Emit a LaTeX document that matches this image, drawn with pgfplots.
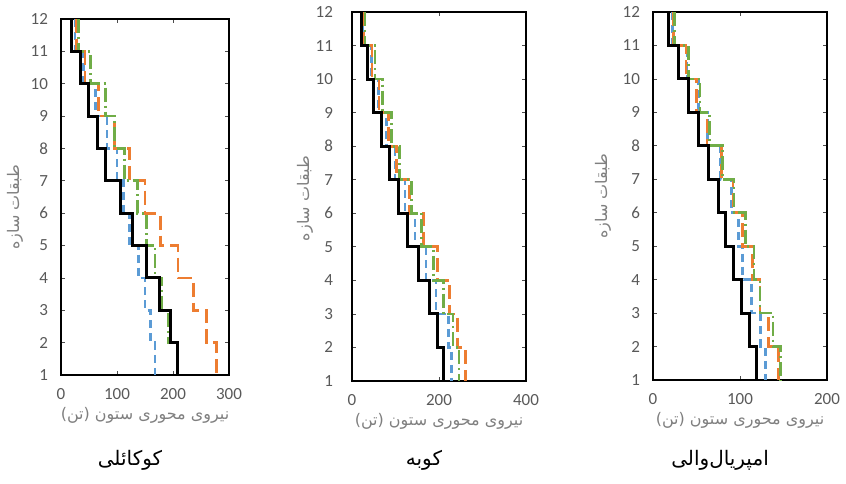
\documentclass[border=0pt]{standalone}
\usepackage{fontspec}
\setmainfont{Carlito}
\newfontfamily\fa[Script=Arabic]{DejaVu Sans}
\TeXXeTstate=1
\usepackage{pgfplots}
\usepackage{pgfplotstable}
\pgfplotsset{compat=1.18}

\definecolor{sblue}{HTML}{5B9BD5}
\definecolor{sorange}{HTML}{ED7D31}
\definecolor{sgreen}{HTML}{70AD47}
\definecolor{tickgray}{HTML}{595959}
\definecolor{labgray}{HTML}{7F7F7F}

% axial column force (ton) per storey; row k holds the value between floor k and k-1
\pgfplotstableread{
floor black blue orange green
12 19 25 28 31
11 34 40 43 52
10 49 62 67 80
9 65 82 96 95
8 80 100 122 114
7 106 111 150 136
6 128 123 177 152
5 152 138 209 168
4 176 150 236 180
3 195 160 260 192
2 208 168 278 209
1 208 168 278 209
}\kocaeli

\pgfplotstableread{
floor black blue orange green
12 21 24 26 30
11 35 44 46 53
10 49 60 62 70
9 67 80 84 91
8 86 99 102 110
7 108 122 133 137
6 127 145 164 160
5 153 170 196 187
4 178 193 225 210
3 197 222 243 232
2 211 229 260 246
1 211 229 260 246
}\kobe

\pgfplotstableread{
floor black blue orange green
12 18 22 24 25
11 29 39 38 41
10 41 52 50 54
9 52 63 62 65
8 64 78 79 80
7 75 90 92 93
6 83 98 103 106
5 92 103 114 116
4 102 113 123 123
3 111 124 133 138
2 119 129 144 147
1 119 129 144 147
}\imperial

\newcommand{\fatext}[1]{{\fa\beginR #1\endR}}

\pgfplotsset{
  floors/.style={
    scale only axis,
    anchor=south west,
    xmin=0, ymin=1, ymax=12, ytick={1,...,12},
    tick align=inside,
    major tick length=2pt,
    tick style={black!70, line width=0.4pt},
    axis line style={line width=0.6pt},
    ticklabel style={font=\fontsize{8.5}{9}\selectfont, text=tickgray},
    /pgf/number format/assume math mode=true,
    xticklabel shift=3pt,
    yticklabel shift=3pt,
    xlabel={\fatext{نیروی محوری ستون (تن)}},
    xlabel style={font=\fontsize{8}{9}\selectfont, text=labgray, yshift=3pt},
    ylabel={\fatext{طبقات سازه}},
  },
  ypos/.style 2 args={
    every axis y label/.style={
      at={([xshift=#1,yshift=#2]axis description cs:0,0.5)},
      rotate=90, anchor=center,
      font=\fontsize{8}{9}\selectfont, text=labgray},
  },
  stair/.style={const plot mark right, no marks, line width=1.4pt},
  sblk/.style={stair, black, line width=1.5pt},
  sblu/.style={stair, sblue, dash pattern=on 4pt off 2.5pt},
  sorg/.style={stair, sorange, dash pattern=on 7pt off 3pt},
  sgrn/.style={stair, sgreen, dash pattern=on 7pt off 2pt on 1pt off 2pt},
}

\begin{document}
\begin{tikzpicture}
\path[use as bounding box] (0,0) rectangle (423pt,241.5pt);

% Kocaeli
\begin{axis}[floors, at={(30.5pt,54pt)}, width=84pt, height=178pt,
    xmax=300, xtick={0,100,200,300}, ypos={-23pt}{-5pt}]
  \addplot[sblu] table[x=blue, y=floor] {\kocaeli};
  \addplot[sorg] table[x=orange, y=floor] {\kocaeli};
  \addplot[sgrn] table[x=green, y=floor] {\kocaeli};
  \addplot[sblk] table[x=black, y=floor] {\kocaeli};
\end{axis}
\node[font=\fontsize{10}{12}\selectfont] at (65pt,11.5pt) {\fatext{کوکائلی}};

% Kobe
\begin{axis}[floors, at={(176pt,51pt)}, width=87pt, height=184.5pt,
    xmax=400, xtick={0,200,400}, yticklabel shift=6pt, ypos={-23.5pt}{-1pt}]
  \addplot[sblu] table[x=blue, y=floor] {\kobe};
  \addplot[sorg] table[x=orange, y=floor] {\kobe};
  \addplot[sgrn] table[x=green, y=floor] {\kobe};
  \addplot[sblk] table[x=black, y=floor] {\kobe};
\end{axis}
\node[font=\fontsize{10}{12}\selectfont] at (212pt,11.5pt) {\fatext{کوبه}};

% Imperial Valley
\begin{axis}[floors, at={(326.5pt,51.5pt)}, width=87pt, height=184pt,
    xmax=200, xtick={0,100,200}, ypos={-25pt}{0pt}]
  \addplot[sblu] table[x=blue, y=floor] {\imperial};
  \addplot[sorg] table[x=orange, y=floor] {\imperial};
  \addplot[sgrn] table[x=green, y=floor] {\imperial};
  \addplot[sblk] table[x=black, y=floor] {\imperial};
\end{axis}
\node[font=\fontsize{10}{12}\selectfont] at (360pt,11.5pt) {\fatext{امپریال‌والی}};
\end{tikzpicture}
\end{document}
